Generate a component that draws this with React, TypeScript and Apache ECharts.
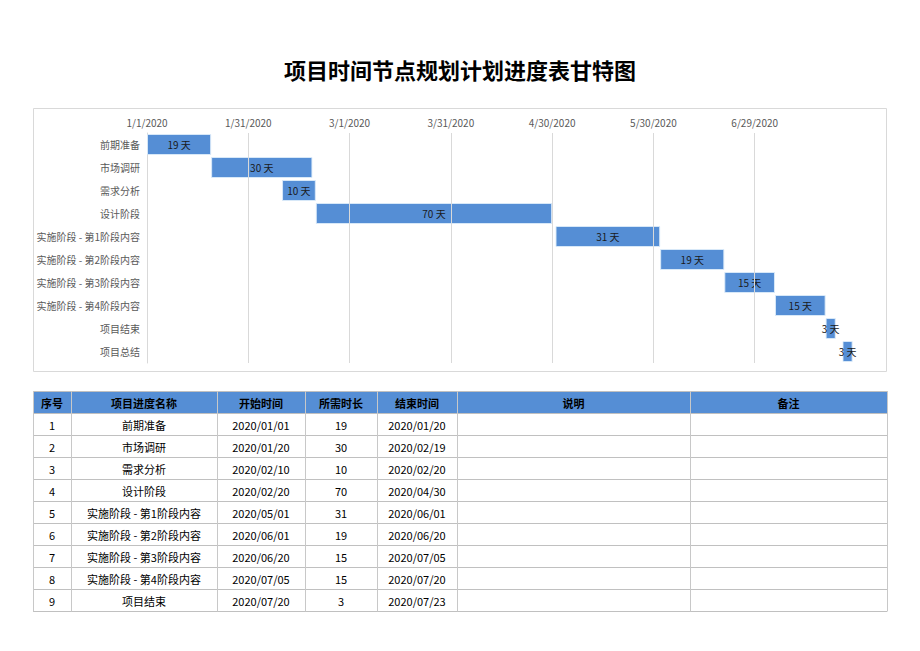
import React, { useEffect, useRef } from "react";
import * as echarts from "echarts";

// ---------- data ----------
const chartTitle = "项目时间节点规划计划进度表甘特图";
const taskNames = [
  "前期准备",
  "市场调研",
  "需求分析",
  "设计阶段",
  "实施阶段 - 第1阶段内容",
  "实施阶段 - 第2阶段内容",
  "实施阶段 - 第3阶段内容",
  "实施阶段 - 第4阶段内容",
  "项目结束",
  "项目总结",
];
const startDates = [
  "2020/01/01",
  "2020/01/20",
  "2020/02/10",
  "2020/02/20",
  "2020/05/01",
  "2020/06/01",
  "2020/06/20",
  "2020/07/05",
  "2020/07/20",
  "2020/07/25",
];
const durations = [19, 30, 10, 70, 31, 19, 15, 15, 3, 3];
const tableHeaders = ["序号", "项目进度名称", "开始时间", "所需时长", "结束时间", "说明", "备注"];
const tableRowCount = 9;
const axisStartDate = "2020/01/01";
const axisMaxDays = 210;
const axisIntervalDays = 30;
const gridLineDays = [30, 60, 90, 120, 150, 180];
const dayUnit = "天";

// ---------- helpers ----------
const DAY = 86400000;
function parseDate(s: string): number {
  const [y, m, d] = s.split("/").map(Number);
  return Date.UTC(y, m - 1, d);
}
const baseMs = parseDate(axisStartDate);
function dayOffset(s: string): number {
  return Math.round((parseDate(s) - baseMs) / DAY);
}
function fmtAxis(days: number): string {
  const dt = new Date(baseMs + days * DAY);
  return `${dt.getUTCMonth() + 1}/${dt.getUTCDate()}/${dt.getUTCFullYear()}`;
}
function pad(n: number) {
  return n < 10 ? "0" + n : "" + n;
}
function fmtTable(ms: number): string {
  const dt = new Date(ms);
  return `${dt.getUTCFullYear()}/${pad(dt.getUTCMonth() + 1)}/${pad(dt.getUTCDate())}`;
}

const FONT = "'Noto Sans CJK SC', 'Noto Sans', sans-serif";

export default function App() {
  const ref = useRef<HTMLDivElement>(null);

  useEffect(() => {
    if (!ref.current) return;
    const chart = echarts.init(ref.current, undefined, { renderer: "svg" });

    const offsets = startDates.map(dayOffset);

    // ----- table graphics -----
    const colX = [33, 71, 217, 305, 377, 457, 690, 887];
    const tableTop = 391;
    const rowH = 22;
    const tableBottom = tableTop + rowH * (tableRowCount + 1);
    const g: any[] = [];

    // chart frame
    g.push({
      type: "rect",
      shape: { x: 33.5, y: 108.5, width: 853, height: 263 },
      style: { fill: "none", stroke: "#d9d9d9", lineWidth: 1 },
      silent: true,
    });
    // title
    g.push({
      type: "text",
      x: 460,
      y: 69,
      style: {
        text: chartTitle,
        fontSize: 22,
        fontWeight: "bold",
        fontFamily: FONT,
        fill: "#000",
        align: "center",
        verticalAlign: "middle",
      },
    });

    // header background
    g.push({
      type: "rect",
      shape: { x: colX[0], y: tableTop, width: colX[colX.length - 1] - colX[0], height: rowH },
      style: { fill: "#558ED5" },
      silent: true,
    });
    // horizontal lines
    for (let r = 0; r <= tableRowCount + 1; r++) {
      const y = tableTop + r * rowH + 0.5;
      g.push({
        type: "line",
        shape: { x1: colX[0], y1: y, x2: colX[colX.length - 1], y2: y },
        style: { stroke: "#c0c0c0", lineWidth: 1 },
        silent: true,
      });
    }
    // vertical lines
    colX.forEach((x) => {
      g.push({
        type: "line",
        shape: { x1: x + 0.5, y1: tableTop, x2: x + 0.5, y2: tableBottom + 0.5 },
        style: { stroke: "#c8c8c8", lineWidth: 1 },
        silent: true,
      });
    });
    // header texts
    tableHeaders.forEach((h, i) => {
      g.push({
        type: "text",
        x: (colX[i] + colX[i + 1]) / 2,
        y: tableTop + rowH / 2 + 1,
        style: {
          text: h,
          fontSize: 11,
          fontWeight: "bold",
          fontFamily: FONT,
          fill: "#000",
          align: "center",
          verticalAlign: "middle",
        },
      });
    });
    // rows
    for (let r = 0; r < tableRowCount; r++) {
      const startMs = parseDate(startDates[r]);
      const cells = [
        String(r + 1),
        taskNames[r],
        fmtTable(startMs),
        String(durations[r]),
        fmtTable(startMs + durations[r] * DAY),
        "",
        "",
      ];
      cells.forEach((c, i) => {
        if (!c) return;
        g.push({
          type: "text",
          x: (colX[i] + colX[i + 1]) / 2,
          y: tableTop + (r + 1) * rowH + rowH / 2 + 1,
          style: {
            text: c,
            fontSize: 11,
            fontFamily: FONT,
            fill: "#000",
            align: "center",
            verticalAlign: "middle",
          },
        });
      });
    }

    const option: any = {
      animation: false,
      backgroundColor: "#fff",
      textStyle: { fontFamily: FONT },
      grid: { left: 147, top: 133, width: 709, height: 230, containLabel: false },
      xAxis: {
        type: "value",
        position: "top",
        min: 0,
        max: axisMaxDays,
        interval: axisIntervalDays,
        axisLine: { show: false },
        axisTick: { show: false },
        splitLine: { show: false },
        axisLabel: {
          show: true,
          showMaxLabel: false,
          margin: 6,
          fontSize: 10,
          color: "#595959",
          fontFamily: FONT,
          formatter: (v: number) => fmtAxis(v),
        },
      },
      yAxis: {
        type: "category",
        inverse: true,
        data: taskNames,
        axisLine: { show: true, lineStyle: { color: "#d9d9d9", width: 1 } },
        axisTick: { show: false },
        axisLabel: { fontSize: 10, color: "#595959", margin: 7, fontFamily: FONT },
      },
      series: [
        {
          name: "base",
          type: "bar",
          stack: "gantt",
          z: 1,
          barWidth: 21,
          itemStyle: { color: "transparent" },
          emphasis: { disabled: true },
          silent: true,
          data: offsets,
          markLine: {
            silent: true,
            symbol: "none",
            label: { show: false },
            lineStyle: { color: "#d9d9d9", type: "solid", width: 1 },
            data: gridLineDays.map((d) => ({ xAxis: d })),
          },
        },
        {
          name: "duration",
          type: "bar",
          stack: "gantt",
          z: 3,
          barWidth: 21,
          itemStyle: { color: "#558ED5", borderColor: "rgba(220,235,250,0.9)", borderWidth: 1 },
          label: {
            show: true,
            position: "inside",
            fontSize: 10,
            color: "#1a1a1a",
            fontFamily: FONT,
            formatter: (p: any) => `${p.value} ${dayUnit}`,
          },
          data: durations,
        },
      ],
      graphic: g,
    };

    chart.setOption(option);
    return () => chart.dispose();
  }, []);

  return (
    <div
      ref={ref}
      style={{ position: "fixed", left: 0, top: 0, width: 920, height: 651, background: "#fff" }}
    />
  );
}
